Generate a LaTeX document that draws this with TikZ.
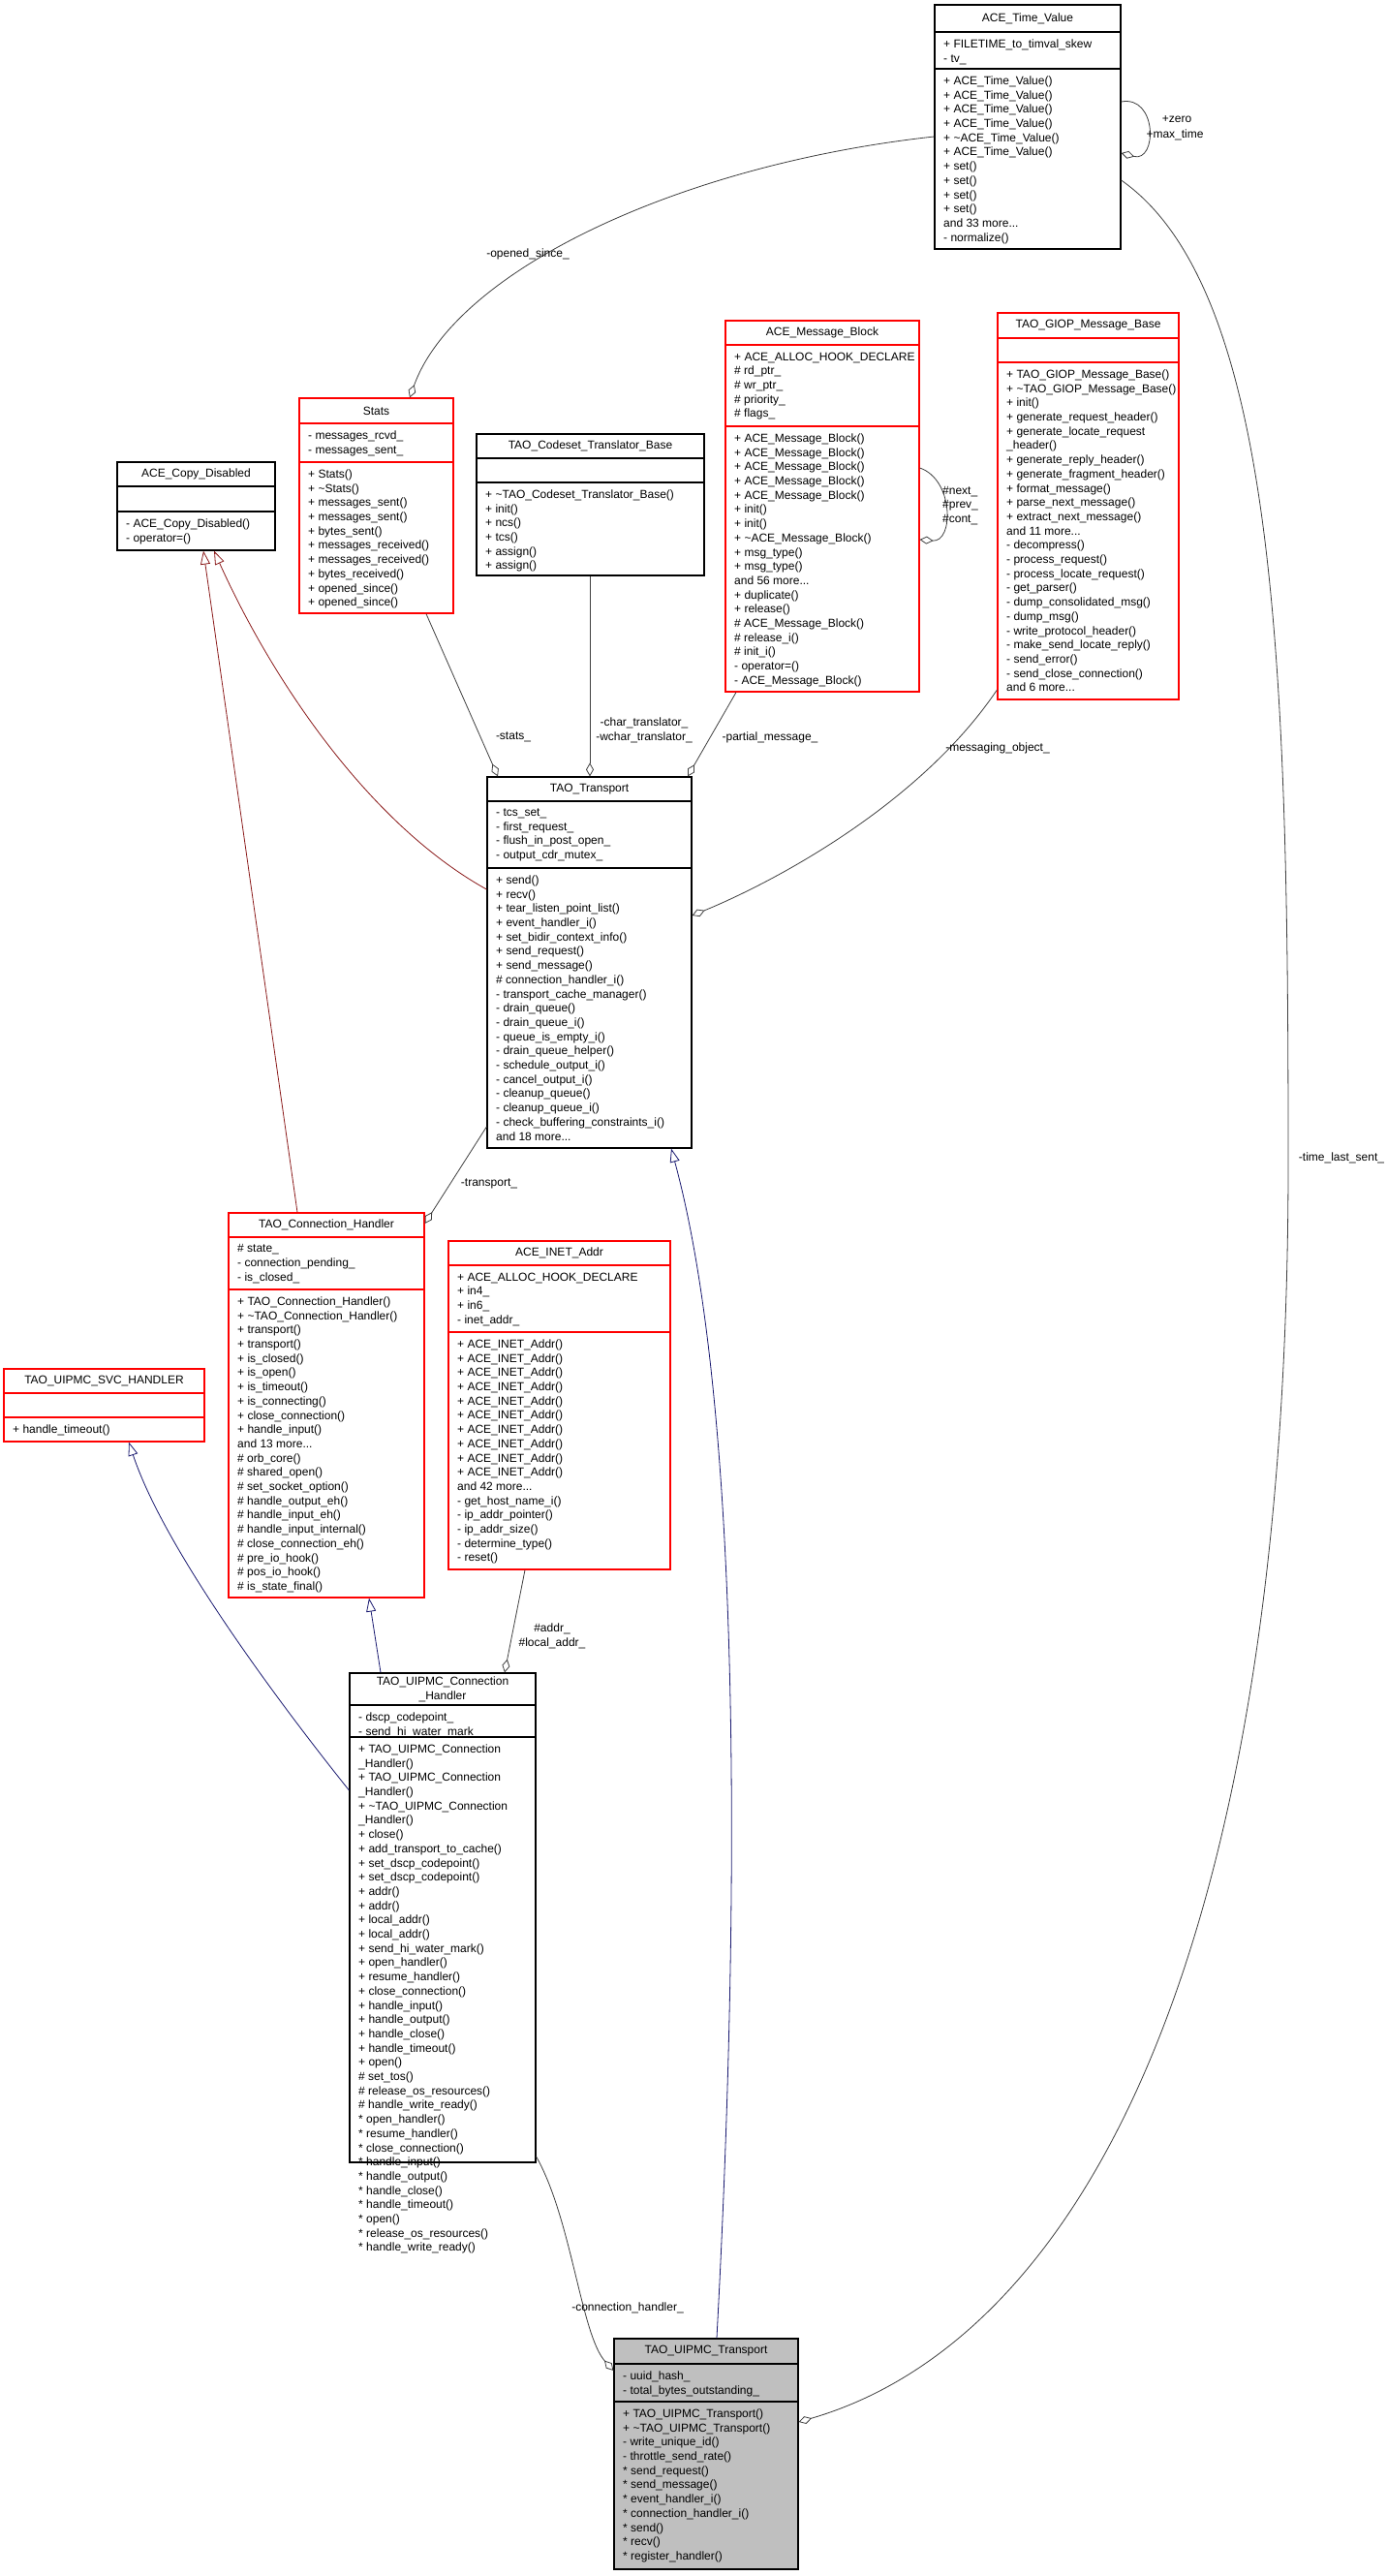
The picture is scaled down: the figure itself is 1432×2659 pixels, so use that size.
\documentclass[tikz,border=0pt]{standalone}
\usepackage{fontspec}
\setmainfont{Liberation Sans}
\usetikzlibrary{fit,arrows.meta}
\definecolor{edgegray}{HTML}{404040}
\definecolor{inhred}{HTML}{8B1A1A}
\definecolor{inhblue}{HTML}{191970}
\definecolor{boxred}{HTML}{FF0000}
\definecolor{boxgray}{HTML}{BFBFBF}
\newcommand\clsbox[8]{%
  \node[fit={(#2,#3) (#4,#5)}, inner sep=0pt, line width=1.2pt, #8] (#1) {};
  \draw[line width=1.2pt, #8, fill=none] (#2,#6) -- (#4,#6) (#2,#7) -- (#4,#7);
}
\newcommand\clstext[9]{%
  \node[ttl] (#1-t) at ({(#2+#4)/2},{(#3+#5)/2}) {#7};
  \node[lst] (#1-a) at (#2+9,#5+7.5) {#8};
  \node[lst] (#1-m) at (#2+9,#6+7.5) {#9};
}
\begin{document}
\begin{tikzpicture}[x=1pt,y=-1pt,
  ttl/.style={font=\fontsize{12}{14.7}\selectfont, align=center, inner sep=0pt},
  lst/.style={font=\fontsize{12}{14.7}\selectfont, align=left, inner sep=0pt, anchor=north west},
  lbl/.style={font=\fontsize{12}{14.7}\selectfont, align=center, inner sep=0pt},
  blk/.style={draw=black, fill=white},
  red/.style={draw=boxred, fill=white},
  gry/.style={draw=black, fill=boxgray},
  agg/.style={draw=edgegray, line width=0.8pt, -{Diamond[open, length=14pt, width=8pt, line width=0.8pt]}},
  inhr/.style={draw=inhred, line width=0.8pt, -{Triangle[open, length=14pt, width=10pt, line width=0.8pt]}},
  inhb/.style={draw=inhblue, line width=0.8pt, -{Triangle[open, length=14pt, width=10pt, line width=0.8pt]}}]
\useasboundingbox[fill=white] (0,0) rectangle (1432,2659);

% ---- boxes ----
\clsbox{tv}{965}{5}{1157}{257}{33}{71}{blk}
\clstext{tv}{965}{5}{1157}{33}{71}{ACE\_Time\_Value}
{+ FILETIME\_to\_timval\_skew\\- tv\_}
{+ ACE\_Time\_Value()\\+ ACE\_Time\_Value()\\+ ACE\_Time\_Value()\\+ ACE\_Time\_Value()\\+ \textasciitilde ACE\_Time\_Value()\\+ ACE\_Time\_Value()\\+ set()\\+ set()\\+ set()\\+ set()\\and 33 more...\\- normalize()}

\clsbox{stats}{309}{411}{468}{633}{437}{477}{red}
\clstext{stats}{309}{411}{468}{437}{477}{Stats}
{- messages\_rcvd\_\\- messages\_sent\_}
{+ Stats()\\+ \textasciitilde Stats()\\+ messages\_sent()\\+ messages\_sent()\\+ bytes\_sent()\\+ messages\_received()\\+ messages\_received()\\+ bytes\_received()\\+ opened\_since()\\+ opened\_since()}

\clsbox{cd}{121}{477}{284}{568}{502}{528}{blk}
\clstext{cd}{121}{477}{284}{502}{528}{ACE\_Copy\_Disabled}
{}
{- ACE\_Copy\_Disabled()\\- operator=()}

\clsbox{cs}{492}{448}{727}{594}{473}{498}{blk}
\clstext{cs}{492}{448}{727}{473}{498}{TAO\_Codeset\_Translator\_Base}
{}
{+ \textasciitilde TAO\_Codeset\_Translator\_Base()\\+ init()\\+ ncs()\\+ tcs()\\+ assign()\\+ assign()}

\clsbox{mb}{749}{331}{949}{714}{356}{440}{red}
\clstext{mb}{749}{331}{949}{356}{440}{ACE\_Message\_Block}
{+ ACE\_ALLOC\_HOOK\_DECLARE\\\# rd\_ptr\_\\\# wr\_ptr\_\\\# priority\_\\\# flags\_}
{+ ACE\_Message\_Block()\\+ ACE\_Message\_Block()\\+ ACE\_Message\_Block()\\+ ACE\_Message\_Block()\\+ ACE\_Message\_Block()\\+ init()\\+ init()\\+ \textasciitilde ACE\_Message\_Block()\\+ msg\_type()\\+ msg\_type()\\and 56 more...\\+ duplicate()\\+ release()\\\# ACE\_Message\_Block()\\\# release\_i()\\\# init\_i()\\- operator=()\\- ACE\_Message\_Block()}

\clsbox{giop}{1030}{323}{1217}{722}{349}{374}{red}
\clstext{giop}{1030}{323}{1217}{349}{374}{TAO\_GIOP\_Message\_Base}
{}
{+ TAO\_GIOP\_Message\_Base()\\+ \textasciitilde TAO\_GIOP\_Message\_Base()\\+ init()\\+ generate\_request\_header()\\+ generate\_locate\_request\\\_header()\\+ generate\_reply\_header()\\+ generate\_fragment\_header()\\+ format\_message()\\+ parse\_next\_message()\\+ extract\_next\_message()\\and 11 more...\\- decompress()\\- process\_request()\\- process\_locate\_request()\\- get\_parser()\\- dump\_consolidated\_msg()\\- dump\_msg()\\- write\_protocol\_header()\\- make\_send\_locate\_reply()\\- send\_error()\\- send\_close\_connection()\\and 6 more...}

\clsbox{tr}{503}{802}{714}{1185}{827}{896}{blk}
\clstext{tr}{503}{802}{714}{827}{896}{TAO\_Transport}
{- tcs\_set\_\\- first\_request\_\\- flush\_in\_post\_open\_\\- output\_cdr\_mutex\_}
{+ send()\\+ recv()\\+ tear\_listen\_point\_list()\\+ event\_handler\_i()\\+ set\_bidir\_context\_info()\\+ send\_request()\\+ send\_message()\\\# connection\_handler\_i()\\- transport\_cache\_manager()\\- drain\_queue()\\- drain\_queue\_i()\\- queue\_is\_empty\_i()\\- drain\_queue\_helper()\\- schedule\_output\_i()\\- cancel\_output\_i()\\- cleanup\_queue()\\- cleanup\_queue\_i()\\- check\_buffering\_constraints\_i()\\and 18 more...}

\clsbox{ch}{236}{1252}{438}{1649}{1277}{1331}{red}
\clstext{ch}{236}{1252}{438}{1277}{1331}{TAO\_Connection\_Handler}
{\# state\_\\- connection\_pending\_\\- is\_closed\_}
{+ TAO\_Connection\_Handler()\\+ \textasciitilde TAO\_Connection\_Handler()\\+ transport()\\+ transport()\\+ is\_closed()\\+ is\_open()\\+ is\_timeout()\\+ is\_connecting()\\+ close\_connection()\\+ handle\_input()\\and 13 more...\\\# orb\_core()\\\# shared\_open()\\\# set\_socket\_option()\\\# handle\_output\_eh()\\\# handle\_input\_eh()\\\# handle\_input\_internal()\\\# close\_connection\_eh()\\\# pre\_io\_hook()\\\# pos\_io\_hook()\\\# is\_state\_final()}

\clsbox{inet}{463}{1281}{692}{1620}{1306}{1375}{red}
\clstext{inet}{463}{1281}{692}{1306}{1375}{ACE\_INET\_Addr}
{+ ACE\_ALLOC\_HOOK\_DECLARE\\+ in4\_\\+ in6\_\\- inet\_addr\_}
{+ ACE\_INET\_Addr()\\+ ACE\_INET\_Addr()\\+ ACE\_INET\_Addr()\\+ ACE\_INET\_Addr()\\+ ACE\_INET\_Addr()\\+ ACE\_INET\_Addr()\\+ ACE\_INET\_Addr()\\+ ACE\_INET\_Addr()\\+ ACE\_INET\_Addr()\\+ ACE\_INET\_Addr()\\and 42 more...\\- get\_host\_name\_i()\\- ip\_addr\_pointer()\\- ip\_addr\_size()\\- determine\_type()\\- reset()}

\clsbox{svc}{4}{1413}{211}{1488}{1438}{1463}{red}
\clstext{svc}{4}{1413}{211}{1438}{1463}{TAO\_UIPMC\_SVC\_HANDLER}
{}
{+ handle\_timeout()}

\clsbox{uch}{361}{1727}{553}{2232}{1760}{1793}{blk}
\clstext{uch}{361}{1727}{553}{1760}{1793}{TAO\_UIPMC\_Connection\\\_Handler}
{- dscp\_codepoint\_\\- send\_hi\_water\_mark\_}
{+ TAO\_UIPMC\_Connection\\\_Handler()\\+ TAO\_UIPMC\_Connection\\\_Handler()\\+ \textasciitilde TAO\_UIPMC\_Connection\\\_Handler()\\+ close()\\+ add\_transport\_to\_cache()\\+ set\_dscp\_codepoint()\\+ set\_dscp\_codepoint()\\+ addr()\\+ addr()\\+ local\_addr()\\+ local\_addr()\\+ send\_hi\_water\_mark()\\+ open\_handler()\\+ resume\_handler()\\+ close\_connection()\\+ handle\_input()\\+ handle\_output()\\+ handle\_close()\\+ handle\_timeout()\\+ open()\\\# set\_tos()\\\# release\_os\_resources()\\\# handle\_write\_ready()\\* open\_handler()\\* resume\_handler()\\* close\_connection()\\* handle\_input()\\* handle\_output()\\* handle\_close()\\* handle\_timeout()\\* open()\\* release\_os\_resources()\\* handle\_write\_ready()}

\clsbox{ut}{634}{2414}{824}{2652}{2440}{2479}{gry}
\clstext{ut}{634}{2414}{824}{2440}{2479}{TAO\_UIPMC\_Transport}
{- uuid\_hash\_\\- total\_bytes\_outstanding\_}
{+ TAO\_UIPMC\_Transport()\\+ \textasciitilde TAO\_UIPMC\_Transport()\\- write\_unique\_id()\\- throttle\_send\_rate()\\* send\_request()\\* send\_message()\\* event\_handler\_i()\\* connection\_handler\_i()\\* send()\\* recv()\\* register\_handler()}

% ---- connectors ----
\draw[agg] (tv.east |- 0,105) .. controls (1195,98) and (1195,168) .. (tv.east |- 0,158);
\node[lbl] (lzero) at (1215,123) {+zero};
\node[lbl] (lmax) at (1213,139) {+max\_time};

\draw[agg] (tv.west |- 0,141) .. controls (700,170) and (470,280) .. (stats.north -| 423,0);
\node[lbl] (lopen) at (545,262) {-opened\_since\_};

\draw[agg] (tv.east |- 0,186) .. controls (1320,300) and (1330,700) .. (1330,1200) .. controls (1330,2050) and (1100,2420) .. (ut.east |- 0,2500);
\node[lbl] (ltls) at (1385,1195) {-time\_last\_sent\_};

\draw[agg] (stats.south -| 440,0) -- (tr.north -| 514,0);
\node[lbl] (lstats) at (530,761) {-stats\_};

\draw[agg] (cs.south -| 609,0) -- (tr.north -| 609,0);
\node[lbl] (lchar) at (665,754) {-char\_translator\_\\-wchar\_translator\_};

\draw[agg] (mb.south -| 760,0) -- (tr.north -| 710,0);
\node[lbl] (lpart) at (795,761) {-partial\_message\_};

\draw[agg] (giop.west |- 0,712) .. controls (950,830) and (800,910) .. (tr.east |- 0,945);
\node[lbl] (lmsg) at (1030,772) {-messaging\_object\_};

\draw[agg] (mb.east |- 0,483) .. controls (985,495) and (985,560) .. (mb.east |- 0,557);
\node[lbl, align=left, anchor=west] (lnext) at (973,522) {\#next\_\\\#prev\_\\\#cont\_};

\draw[inhr] (ch.north -| 307,0) -- (cd.south -| 210,0);
\draw[inhr] (tr.west |- 0,918) .. controls (380,850) and (280,700) .. (cd.south -| 221,0);

\draw[agg] (tr.west |- 0,1163) -- (ch.east |- 0,1263);
\node[lbl] (ltr) at (505,1222) {-transport\_};

\draw[inhb] (ut.north -| 740,0) .. controls (765,1950) and (765,1450) .. (tr.south -| 693,0);
\draw[inhb] (uch.west |- 0,1848) .. controls (290,1760) and (170,1600) .. (svc.south -| 133,0);
\draw[inhb] (uch.north -| 393,0) -- (ch.south -| 381,0);

\draw[agg] (inet.south -| 542,0) -- (uch.north -| 521,0);
\node[lbl] (laddr) at (570,1689) {\#addr\_\\\#local\_addr\_};

\draw[agg] (uch.east |- 0,2226) .. controls (590,2290) and (600,2410) .. (ut.west |- 0,2447);
\node[lbl] (lconn) at (648,2382) {-connection\_handler\_};
\end{tikzpicture}
\end{document}
